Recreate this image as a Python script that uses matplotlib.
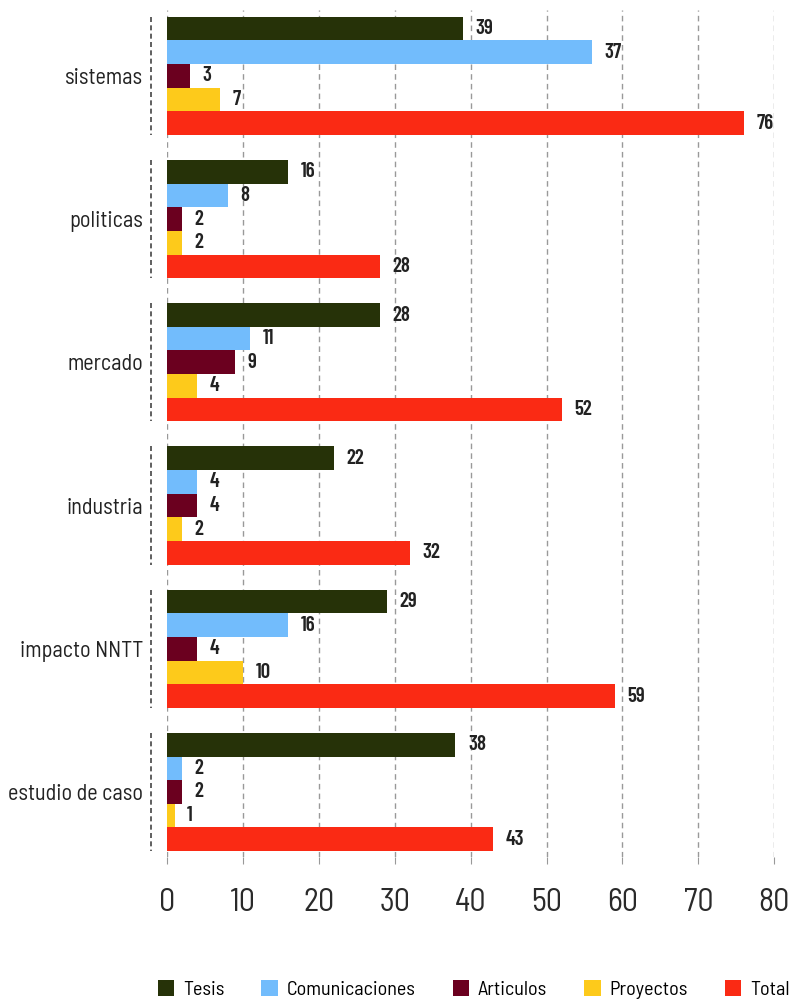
import numpy as np
import matplotlib
matplotlib.use("Agg")
import matplotlib.pyplot as plt
from matplotlib.transforms import blended_transform_factory

plt.rcParams['font.family'] = ['Barlow Semi Condensed', 'DejaVu Sans']

categorias = ['sistemas', 'politicas', 'mercado', 'industria', 'impacto NNTT', 'estudio de caso']
series = ['Tesis', 'Comunicaciones', 'Articulos', 'Proyectos', 'Total']
colores = ['#263208', '#72bcfc', '#6b001f', '#fdca1b', '#fa2a14']

tesis = [39, 16, 28, 22, 29, 38]
comunicaciones = [56, 8, 11, 4, 16, 2]
articulos = [3, 2, 9, 4, 4, 2]
proyectos = [7, 2, 4, 2, 10, 1]
total = [76, 28, 52, 32, 59, 43]

# etiquetas tal como aparecen (sistemas/Comunicaciones dice 37)
etiq_comunicaciones = [37, 8, 11, 4, 16, 2]

valores = [tesis, comunicaciones, articulos, proyectos, total]
etiquetas = [tesis, etiq_comunicaciones, articulos, proyectos, total]

fig = plt.figure(figsize=(7.99, 9.99), dpi=100)
ax = fig.add_axes([0.209, 0.142, 0.76, 0.848])

y = np.arange(len(categorias))
n = len(series)
alto = 0.825 / n

for i, (nombre, vals, labs, col) in enumerate(zip(series, valores, etiquetas, colores)):
    pos = y - 0.4125 + alto * (i + 0.5)
    barras = ax.barh(pos, vals, height=alto, color=col, label=nombre)
    ax.bar_label(barras, labels=[str(v) for v in labs], padding=9,
                 fontsize=15, fontweight='semibold', color='#222222',
                 family=['Barlow Condensed', 'DejaVu Sans'])

ax.set_xlim(0, 80)
ax.set_ylim(5.455, -0.46)
ax.set_xticks(range(0, 81, 10))
ax.set_yticks(y)
ax.set_yticklabels(categorias, fontsize=16, color='#222222')
ax.tick_params(axis='y', length=0, pad=17)
ax.tick_params(axis='x', length=5, color='#999999', pad=17, labelsize=23, labelcolor='#2a2a2a')

ax.grid(axis='x', linestyle=(0, (4, 3)), color='#999999', linewidth=1)
ax.set_axisbelow(True)
for s in ax.spines.values():
    s.set_visible(False)

# separadores punteados a la izquierda de cada grupo
tr = blended_transform_factory(ax.transAxes, ax.transData)
for c in y:
    ax.plot([-0.027, -0.027], [c - 0.4125, c + 0.4125], transform=tr,
            color='#444444', linestyle=(0, (3, 2)), linewidth=1.2, clip_on=False)

fig.legend(loc='lower center', bbox_to_anchor=(0.593, -0.018), ncol=5, frameon=False,
           fontsize=14.5, handlelength=0.8, handleheight=0.8, columnspacing=1.85,
           handletextpad=0.45)

fig.savefig('out.png', dpi=100)
